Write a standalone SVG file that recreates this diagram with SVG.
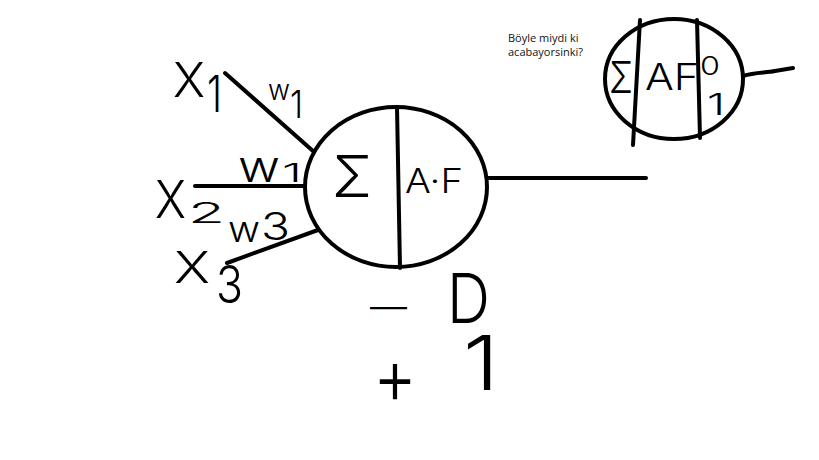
<svg xmlns="http://www.w3.org/2000/svg" width="819" height="460" viewBox="0 0 819 460">
<style>
.ln{stroke:#000;stroke-width:4;fill:none;stroke-linecap:round}
.hw{font-family:Inter,"Liberation Sans",Arial,sans-serif;font-weight:300;fill:#000}
.note{font-family:"Open Sans","Noto Sans",sans-serif;font-size:11px;fill:#111}
</style>
<rect width="819" height="460" fill="#fff"/>
<g id="connectors">
<line class="ln" x1="225" y1="73" x2="313" y2="151"/>
<line class="ln" x1="195" y1="186" x2="305" y2="186"/>
<line class="ln" x1="227" y1="263" x2="318" y2="230"/>
<line class="ln" x1="487" y1="178" x2="646" y2="178"/>
<path class="ln" d="M743,76 C755,72 765,73 775,71 L793,68"/>
</g>
<g id="neuron-main">
<ellipse class="ln" cx="396" cy="187" rx="91" ry="80"/>
<line class="ln" x1="397" y1="107" x2="400" y2="268"/>
<text class="hw" x="332" y="197" font-size="58" textLength="40" lengthAdjust="spacingAndGlyphs">Σ</text>
<text class="hw" x="405" y="193" font-size="34" textLength="58" lengthAdjust="spacingAndGlyphs">A·F</text>
</g>
<g id="neuron-small">
<ellipse class="ln" cx="674" cy="79" rx="69" ry="60"/>
<line class="ln" x1="640" y1="20" x2="633" y2="145"/>
<line class="ln" x1="697" y1="20" x2="700" y2="138"/>
<text class="hw" x="609" y="93" font-size="43" textLength="24" lengthAdjust="spacingAndGlyphs">Σ</text>
<text class="hw" x="645" y="90" font-size="37" textLength="54" lengthAdjust="spacingAndGlyphs">AF</text>
<text class="hw" x="700" y="75" font-size="25" textLength="20" lengthAdjust="spacingAndGlyphs">0</text>
<text class="hw" x="707" y="115" font-size="30" textLength="18" lengthAdjust="spacingAndGlyphs">1</text>
</g>
<g id="input-x1">
<text class="hw"><tspan x="173" y="97" font-size="48" textLength="32" lengthAdjust="spacingAndGlyphs">X</tspan><tspan x="207" y="112" font-size="51" textLength="15" lengthAdjust="spacingAndGlyphs">1</tspan></text>
</g>
<g id="input-x2">
<text class="hw"><tspan x="155" y="218" font-size="52" textLength="31" lengthAdjust="spacingAndGlyphs">X</tspan><tspan x="188" y="223" font-size="28" textLength="37" lengthAdjust="spacingAndGlyphs">2</tspan></text>
</g>
<g id="input-x3">
<text class="hw"><tspan x="174" y="283" font-size="43" textLength="36" lengthAdjust="spacingAndGlyphs">X</tspan><tspan x="216" y="303" font-size="52" textLength="27" lengthAdjust="spacingAndGlyphs">3</tspan></text>
</g>
<g id="weight-w1">
<text class="hw"><tspan x="268" y="100" font-size="28" textLength="22" lengthAdjust="spacingAndGlyphs">w</tspan><tspan x="290" y="118" font-size="38" textLength="13" lengthAdjust="spacingAndGlyphs">1</tspan></text>
</g>
<g id="weight-w2">
<text class="hw"><tspan x="238" y="182" font-size="44" textLength="42" lengthAdjust="spacingAndGlyphs">w</tspan><tspan x="282" y="182" font-size="26" textLength="20" lengthAdjust="spacingAndGlyphs">1</tspan></text>
</g>
<g id="weight-w3">
<text class="hw"><tspan x="228" y="242" font-size="37" textLength="32" lengthAdjust="spacingAndGlyphs">w</tspan><tspan x="261" y="240" font-size="38" textLength="29" lengthAdjust="spacingAndGlyphs">3</tspan></text>
</g>
<g id="outputs">
<text class="hw"><tspan x="370" y="320" font-size="37" textLength="37" lengthAdjust="spacingAndGlyphs">—</tspan><tspan x="447" y="323" font-size="69" textLength="43" lengthAdjust="spacingAndGlyphs">D</tspan><tspan x="373" y="404" font-size="78" textLength="44" lengthAdjust="spacingAndGlyphs">+</tspan><tspan x="463" y="390" font-size="76" textLength="36" lengthAdjust="spacingAndGlyphs">1</tspan></text>
</g>
<g id="note">
<text class="note" x="508" y="42">Böyle miydi ki</text>
<text class="note" x="508" y="56">acabayorsinki?</text>
</g>
</svg>
